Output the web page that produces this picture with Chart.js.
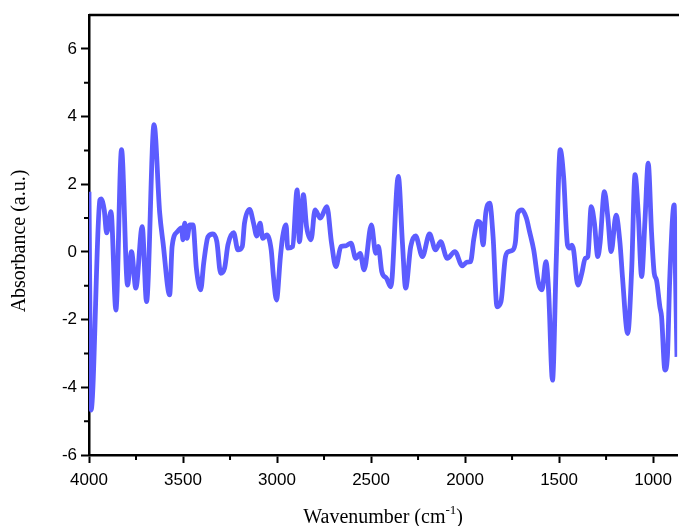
<!DOCTYPE html>
<html>
<head>
<meta charset="utf-8">
<script src="https://cdn.jsdelivr.net/npm/chart.js@4.4.0/dist/chart.umd.min.js"></script>
<style>
  body { margin: 0; background: #fff; }
  #wrap { width: 679px; height: 526px; }
</style>
</head>
<body>
<div id="wrap"><canvas id="chart" width="679" height="526"></canvas></div>
<script>
// wavenumber (cm-1) from left to right
const wavenumber = [
  4000, 3989, 3942, 3936, 3919, 3906, 3883, 3857, 3827, 3795,
  3774, 3751, 3717, 3694, 3654, 3624, 3606, 3571, 3558, 3530,
  3508, 3500, 3491, 3479, 3464, 3447, 3429, 3406, 3390, 3367,
  3341, 3320, 3300, 3279, 3261, 3231, 3208, 3185, 3173, 3146,
  3125, 3108, 3090, 3076, 3055, 3031, 3019, 3003, 2982, 2970,
  2952, 2943, 2917, 2893, 2881, 2860, 2843, 2819, 2798, 2770,
  2735, 2710, 2687, 2660, 2634, 2607, 2581, 2558, 2537, 2498,
  2475, 2461, 2443, 2418, 2395, 2355, 2333, 2316, 2289, 2263,
  2227, 2189, 2157, 2130, 2095, 2054, 2015, 1990, 1971, 1953,
  1932, 1918, 1904, 1890, 1869, 1851, 1830, 1809, 1785, 1768,
  1745, 1732, 1720, 1697, 1674, 1657, 1635, 1609, 1591, 1570,
  1556, 1535, 1515, 1494, 1476, 1455, 1442, 1432, 1423, 1400,
  1379, 1361, 1347, 1329, 1312, 1294, 1282, 1259, 1241, 1223,
  1197, 1176, 1163, 1135, 1114, 1096, 1079, 1061, 1043, 1026,
  1008, 994, 982, 964, 955, 937, 924, 911, 888, 880,
  873
];
const absorbance = [
  1.78, -4.67, 1.54, 1.57, 1.24, 0.56, 1.19, -1.72, 3.02, -0.98,
  0.01, -1.07, 0.75, -1.47, 3.76, 1.15, 0.26, -1.27, 0.16, 0.6,
  0.71, 0.36, 0.85, 0.4, 0.8, 0.8, -0.48, -1.12, -0.33, 0.45,
  0.53, 0.3, -0.63, -0.48, 0.21, 0.57, 0.06, 0.16, 0.85, 1.26,
  0.85, 0.47, 0.85, 0.4, 0.5, 0.06, -0.73, -1.42, -0.14, 0.45,
  0.8, 0.11, 0.16, 1.83, 0.3, 1.69, 0.75, 0.36, 1.24, 1.0,
  1.34, 0.26, -0.43, 0.16, 0.18, 0.26, -0.19, -0.04, -0.53, 0.8,
  -0.04, 0.16, -0.58, -0.78, -1.03, 2.23, 0.26, -1.07, 0.16, 0.47,
  -0.14, 0.53, 0.06, 0.3, -0.19, 0.01, -0.41, -0.3, -0.29, 0.4,
  0.9, 0.85, 0.21, 1.14, 1.44, 0.45, -1.62, -1.47, -0.14, 0.01,
  0.06, 0.3, 1.14, 1.24, 1.0, 0.6, 0.06, -0.93, -1.12, -0.29,
  -1.12, -3.79, -0.24, 3.02, 2.23, 0.2, 0.11, 0.2, 0.06, -0.98,
  -0.63, -0.19, -0.14, 1.34, 0.85, -0.14, 0.26, 1.78, 1.04, 0.01,
  1.09, 0.26, -0.73, -2.41, -0.53, 2.28, 1.14, -0.73, 0.95, 2.62,
  0.55, -0.63, -0.83, -1.62, -1.91, -3.49, -3.1, -0.73, 1.39, -1.0,
  -3.1
];

// axis ticks
const xMajor = [4000, 3500, 3000, 2500, 2000, 1500, 1000];
const xMinor = [3750, 3250, 2750, 2250, 1750, 1250];
const yMajor = [-6, -4, -2, 0, 2, 4, 6];
const yMinor = [-5, -3, -1, 1, 3, 5];

const tickFont = { family: "'Liberation Sans', Arial, sans-serif", size: 17 };
const titleFont = "20px 'Liberation Serif', 'Times New Roman', serif";

// minor ticks, the open top frame line and the axis titles
const extras = {
  id: "extras",
  afterDraw(chart) {
    const ctx = chart.ctx;
    const area = chart.chartArea;
    const x = chart.scales.x;
    const y = chart.scales.y;
    ctx.save();
    ctx.strokeStyle = "#000";
    ctx.lineWidth = 2;
    ctx.beginPath();
    xMinor.forEach(v => {
      const px = x.getPixelForValue(v);
      ctx.moveTo(px, area.bottom);
      ctx.lineTo(px, area.bottom + 5);
    });
    yMinor.forEach(v => {
      const py = y.getPixelForValue(v);
      ctx.moveTo(area.left, py);
      ctx.lineTo(area.left - 5, py);
    });
    ctx.stroke();

    ctx.lineWidth = 2.5;
    ctx.beginPath();
    ctx.moveTo(area.left, area.top);
    ctx.lineTo(chart.width, area.top);
    ctx.stroke();

    ctx.fillStyle = "#000";
    ctx.font = titleFont;
    ctx.textBaseline = "alphabetic";

    // y title
    ctx.save();
    ctx.translate(25, (area.top + area.bottom) / 2 + 6);
    ctx.rotate(-Math.PI / 2);
    ctx.textAlign = "center";
    ctx.fillText("Absorbance (a.u.)", 0, 0);
    ctx.restore();

    // x title with superscript
    const main = "Wavenumber (cm";
    const sup = "-1";
    const close = ")";
    const supFont = "13px 'Liberation Serif', 'Times New Roman', serif";
    ctx.textAlign = "left";
    const wMain = ctx.measureText(main).width;
    const wClose = ctx.measureText(close).width;
    ctx.font = supFont;
    const wSup = ctx.measureText(sup).width;
    const total = wMain + wSup + wClose;
    let sx = (area.left + area.right) / 2 - total / 2;
    const base = 523;
    ctx.font = titleFont;
    ctx.fillText(main, sx, base);
    sx += wMain;
    ctx.font = supFont;
    ctx.fillText(sup, sx, base - 9);
    sx += wSup;
    ctx.font = titleFont;
    ctx.fillText(close, sx, base);
    ctx.restore();
  }
};

new Chart(document.getElementById("chart"), {
  type: "line",
  data: {
    datasets: [{
      data: wavenumber.map((w, i) => ({ x: w, y: absorbance[i] })),
      borderColor: "rgb(92, 92, 255)",
      borderWidth: 4.8,
      pointRadius: 0,
      cubicInterpolationMode: "monotone",
      fill: false
    }]
  },
  options: {
    responsive: false,
    animation: false,
    layout: { padding: { top: 15, left: 0, right: 0, bottom: 0 } },
    plugins: { legend: { display: false }, tooltip: { enabled: false } },
    scales: {
      x: {
        type: "linear",
        reverse: true,
        min: 872,
        max: 4000,
        afterFit(scale) { scale.height = 71; },
        afterBuildTicks(scale) { scale.ticks = xMajor.map(v => ({ value: v })); },
        ticks: { color: "#000", font: tickFont, padding: 7, maxRotation: 0, callback: v => String(v) },
        grid: { drawOnChartArea: false, tickLength: 8, tickWidth: 2, tickColor: "#000" },
        border: { display: true, color: "#000", width: 2.5 }
      },
      y: {
        type: "linear",
        min: -6,
        max: 7,
        afterFit(scale) { scale.width = 89; },
        afterBuildTicks(scale) { scale.ticks = yMajor.map(v => ({ value: v })); },
        ticks: { color: "#000", font: tickFont, padding: 4, callback: v => String(v) },
        grid: { drawOnChartArea: false, tickLength: 8, tickWidth: 2, tickColor: "#000" },
        border: { display: true, color: "#000", width: 2.5 }
      }
    }
  },
  plugins: [extras]
});
</script>
</body>
</html>
